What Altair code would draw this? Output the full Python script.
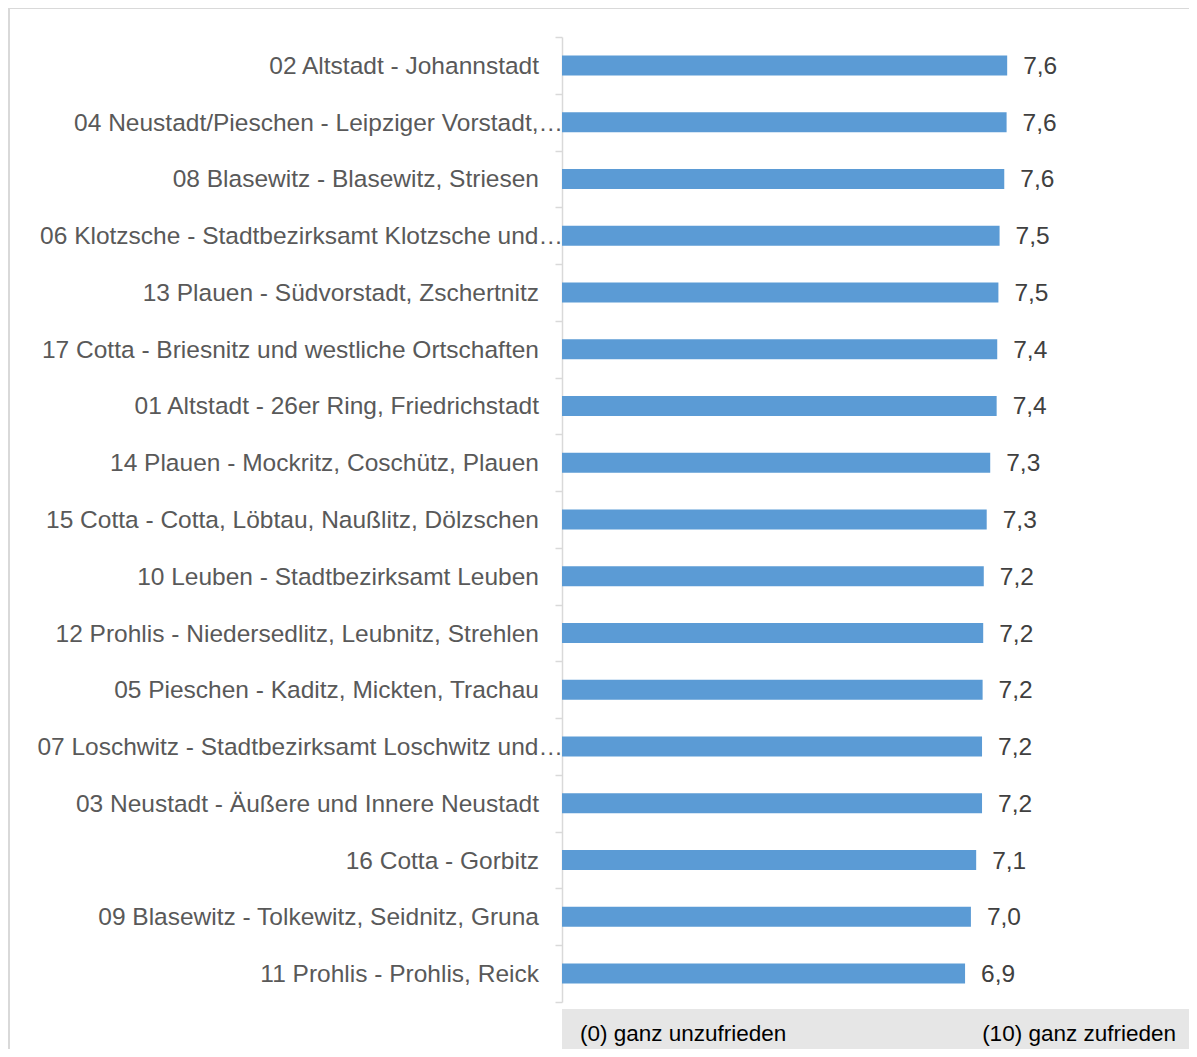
import altair as alt
import pandas as pd

categories = [
    "02 Altstadt - Johannstadt",
    "04 Neustadt/Pieschen - Leipziger Vorstadt,…",
    "08 Blasewitz - Blasewitz, Striesen",
    "06 Klotzsche - Stadtbezirksamt Klotzsche und…",
    "13 Plauen - Südvorstadt, Zschertnitz",
    "17 Cotta - Briesnitz und westliche Ortschaften",
    "01 Altstadt - 26er Ring, Friedrichstadt",
    "14 Plauen - Mockritz, Coschütz, Plauen",
    "15 Cotta - Cotta, Löbtau, Naußlitz, Dölzschen",
    "10 Leuben - Stadtbezirksamt Leuben",
    "12 Prohlis - Niedersedlitz, Leubnitz, Strehlen",
    "05 Pieschen - Kaditz, Mickten, Trachau",
    "07 Loschwitz - Stadtbezirksamt Loschwitz und…",
    "03 Neustadt - Äußere und Innere Neustadt",
    "16 Cotta - Gorbitz",
    "09 Blasewitz - Tolkewitz, Seidnitz, Gruna",
    "11 Prohlis - Prohlis, Reick",
]
values = [7.61, 7.60, 7.56, 7.48, 7.46, 7.44, 7.43, 7.32, 7.26, 7.21, 7.20, 7.19, 7.18, 7.18, 7.08, 6.99, 6.89]
value_labels = ["7,6", "7,6", "7,6", "7,5", "7,5", "7,4", "7,4", "7,3", "7,3", "7,2",
                "7,2", "7,2", "7,2", "7,2", "7,1", "7,0", "6,9"]
scale_labels = ["(0) ganz unzufrieden", "(10) ganz zufrieden"]
scale_positions = [0, 10]

df = pd.DataFrame({"cat": categories, "val": values, "label": value_labels})
df["trunc"] = [c.endswith("…") for c in categories]

W, H = 585, 965
FONT = "Arial"

y = alt.Y("cat:N", sort=categories,
          scale=alt.Scale(paddingInner=0, paddingOuter=0),
          axis=alt.Axis(title=None, labels=False, ticks=True, tickBand="extent",
                        tickSize=7, tickColor="#d9d9d9", domainColor="#d9d9d9",
                        domainWidth=1.5, tickWidth=1.5, grid=False))
x = alt.X("val:Q", scale=alt.Scale(domain=[0, 10]), axis=None)

base = alt.Chart(df)

border = alt.Chart(pd.DataFrame({"a": [0]})).mark_rect(
    fill=None, stroke="#d9d9d9", strokeWidth=2
).encode(x=alt.value(-553), x2=alt.value(W + 200), y=alt.value(-29), y2=alt.value(H + 200))

graybox = alt.Chart(pd.DataFrame({"a": [0]})).mark_rect(color="#e6e6e6").encode(
    x=alt.value(0), x2=alt.value(W + 200), y=alt.value(H + 7), y2=alt.value(H + 200))

bars = base.mark_bar(size=20, color="#5b9bd5").encode(y=y, x=x)

vals = base.mark_text(align="left", baseline="middle", dx=16, dy=1.5, font=FONT, fontSize=24.5,
                      color="#404040").encode(y=y, x=x, text="label:N")

cat_normal = base.transform_filter("!datum.trunc").mark_text(
    align="right", baseline="middle", dy=1.5, font=FONT, fontSize=24.5, color="#595959"
).encode(y=y, x=alt.value(-23), text="cat:N")

cat_trunc = base.transform_filter("datum.trunc").mark_text(
    align="right", baseline="middle", dy=1.5, font=FONT, fontSize=24.5, color="#595959"
).encode(y=y, x=alt.value(1), text="cat:N")

sdf = pd.DataFrame({"txt": scale_labels, "pos": scale_positions})
s_left = alt.Chart(sdf).transform_filter("datum.pos == 0").mark_text(
    align="left", baseline="middle", dx=18, font=FONT, fontSize=22.5, color="#000000"
).encode(x=alt.X("pos:Q", scale=alt.Scale(domain=[0, 10])), y=alt.value(H + 32), text="txt:N")
s_right = alt.Chart(sdf).transform_filter("datum.pos == 10").mark_text(
    align="right", baseline="middle", dx=29, font=FONT, fontSize=22.5, color="#000000"
).encode(x=alt.X("pos:Q", scale=alt.Scale(domain=[0, 10])), y=alt.value(H + 32), text="txt:N")

chart = alt.layer(border, graybox, bars, vals, cat_normal, cat_trunc, s_left, s_right).properties(
    width=W, height=H,
    background="white",
    autosize=alt.AutoSizeParams(type="none"),
    padding={"left": 554, "top": 29, "right": 42, "bottom": 47},
).configure_view(stroke=None)

chart.save("out.html", embed_options={"renderer": "svg", "actions": False})
